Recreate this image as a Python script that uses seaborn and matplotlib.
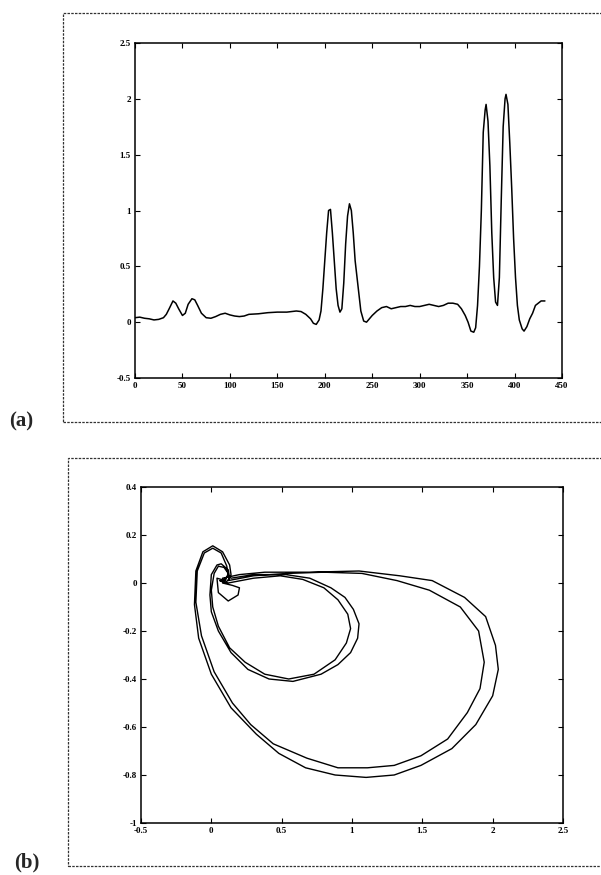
import numpy as np
import pandas as pd
import matplotlib
matplotlib.use("Agg")
import matplotlib.pyplot as plt
from matplotlib.patches import Rectangle
from matplotlib.ticker import FormatStrFormatter
import seaborn as sns

# pannello (a): segnale
segnale_x = [0, 5, 10, 15, 20, 25, 30, 33, 36, 40, 43, 46, 50, 53, 56, 60, 63, 66, 70, 75,
             80, 85, 90, 95, 100, 105, 110, 115, 120, 130, 140, 150, 160, 170, 175, 180, 185,
             188, 191, 194, 196, 198, 200, 202, 204, 206, 208, 210, 212, 214, 216, 218, 220,
             222, 224, 226, 228, 230, 232, 234, 236, 238, 241, 244, 247, 250, 255, 260, 265,
             270, 275, 280, 285, 290, 295, 300, 305, 310, 315, 320, 325, 330, 335, 340, 344,
             348, 351, 354, 357, 359, 361, 363, 365, 367, 369, 370, 372, 374, 376, 378, 380,
             382, 384, 386, 388, 390, 391, 393, 395, 397, 399, 401, 403, 405, 408, 410, 413,
             416, 419, 422, 425, 428, 432]
segnale_y = [0.04, 0.045, 0.035, 0.03, 0.02, 0.025, 0.04, 0.07, 0.12, 0.19, 0.17, 0.12, 0.06,
             0.08, 0.16, 0.21, 0.20, 0.15, 0.08, 0.04, 0.035, 0.05, 0.07, 0.08, 0.065, 0.055,
             0.05, 0.055, 0.07, 0.075, 0.085, 0.09, 0.09, 0.10, 0.095, 0.07, 0.03, -0.01,
             -0.02, 0.02, 0.1, 0.3, 0.55, 0.8, 1.0, 1.01, 0.8, 0.55, 0.3, 0.15, 0.09, 0.12,
             0.35, 0.7, 0.95, 1.06, 1.0, 0.8, 0.55, 0.4, 0.25, 0.1, 0.01, 0.0, 0.03, 0.06,
             0.1, 0.13, 0.14, 0.12, 0.13, 0.14, 0.14, 0.15, 0.14, 0.14, 0.15, 0.16, 0.15,
             0.14, 0.15, 0.17, 0.17, 0.16, 0.12, 0.06, 0.0, -0.08, -0.09, -0.05, 0.15, 0.5,
             1.0, 1.7, 1.9, 1.95, 1.8, 1.4, 0.8, 0.4, 0.18, 0.15, 0.4, 1.1, 1.75, 2.0, 2.04,
             1.95, 1.6, 1.2, 0.75, 0.4, 0.15, 0.02, -0.06, -0.08, -0.04, 0.03, 0.08, 0.15,
             0.17, 0.19, 0.19]

# pannello (b): traiettoria nel piano (due giri piccoli, due giri grandi)
giro_piccolo_1 = [(0.14, 0.02), (0.30, 0.035), (0.53, 0.035), (0.70, 0.02), (0.85, -0.02),
                  (0.95, -0.06), (1.01, -0.11), (1.05, -0.17), (1.04, -0.23), (0.99, -0.29),
                  (0.90, -0.34), (0.78, -0.38), (0.58, -0.41), (0.41, -0.40), (0.26, -0.36),
                  (0.14, -0.29), (0.05, -0.20), (0.0, -0.12), (-0.01, -0.05), (0.0, 0.035),
                  (0.04, 0.075), (0.07, 0.08), (0.12, 0.055), (0.13, 0.02), (0.10, 0.0),
                  (0.06, 0.01)]
giro_piccolo_2 = [(0.12, 0.0), (0.30, 0.02), (0.49, 0.03), (0.65, 0.015), (0.80, -0.02),
                  (0.90, -0.07), (0.97, -0.13), (0.99, -0.19), (0.96, -0.25), (0.88, -0.32),
                  (0.73, -0.38), (0.55, -0.40), (0.38, -0.38), (0.24, -0.33), (0.13, -0.27),
                  (0.05, -0.18), (0.01, -0.10), (0.0, -0.03), (0.02, 0.04), (0.05, 0.07),
                  (0.09, 0.065), (0.12, 0.04), (0.10, 0.01)]
ricciolo = [(0.04, 0.02), (0.05, -0.04), (0.12, -0.075), (0.19, -0.05), (0.20, -0.02),
            (0.15, -0.01), (0.08, 0.0)]
giro_grande_1 = [(0.08, 0.02), (0.2, 0.035), (0.38, 0.045), (0.7, 0.045), (1.05, 0.05),
                 (1.34, 0.03), (1.57, 0.01), (1.80, -0.06), (1.95, -0.14), (2.02, -0.26),
                 (2.04, -0.36), (2.0, -0.47), (1.88, -0.59), (1.71, -0.69), (1.49, -0.76),
                 (1.30, -0.80), (1.10, -0.81), (0.88, -0.80), (0.67, -0.77), (0.48, -0.71),
                 (0.32, -0.63), (0.14, -0.52), (0.0, -0.38), (-0.09, -0.23), (-0.12, -0.09),
                 (-0.11, 0.05), (-0.06, 0.13), (0.01, 0.155), (0.08, 0.13), (0.13, 0.075),
                 (0.14, 0.035), (0.12, 0.01)]
giro_grande_2 = [(0.3, 0.03), (0.55, 0.04), (0.8, 0.045), (1.07, 0.04), (1.32, 0.01),
                 (1.55, -0.03), (1.77, -0.10), (1.90, -0.20), (1.94, -0.33), (1.91, -0.44),
                 (1.82, -0.54), (1.68, -0.65), (1.49, -0.72), (1.30, -0.76), (1.11, -0.77),
                 (0.90, -0.77), (0.68, -0.73), (0.44, -0.67), (0.28, -0.59), (0.15, -0.50),
                 (0.02, -0.37), (-0.07, -0.22), (-0.11, -0.08), (-0.10, 0.05), (-0.05, 0.125),
                 (0.01, 0.145), (0.07, 0.125), (0.11, 0.07), (0.12, 0.03), (0.08, 0.01)]

tick_x_a = [0, 50, 100, 150, 200, 250, 300, 350, 400, 450]
tick_y_a = [-0.5, 0, 0.5, 1, 1.5, 2, 2.5]
tick_x_b = [-0.5, 0, 0.5, 1, 1.5, 2, 2.5]
tick_y_b = [-1, -0.8, -0.6, -0.4, -0.2, 0, 0.2, 0.4]

traiettoria = giro_piccolo_1 + giro_piccolo_2 + ricciolo + giro_grande_1 + giro_grande_2
df_a = pd.DataFrame({"t": segnale_x, "v": segnale_y})
df_b = pd.DataFrame(traiettoria, columns=["x", "y"])

sns.set_style("ticks")
plt.rcParams["font.family"] = ["Liberation Serif", "DejaVu Serif"]
plt.rcParams["axes.unicode_minus"] = False

W, H = 601, 875
fig = plt.figure(figsize=(W / 100, H / 100), dpi=100)


def px_axes(left, top, right, bottom):
    return fig.add_axes([left / W, 1 - bottom / H, (right - left) / W, (bottom - top) / H])


def stile_assi(ax):
    ax.xaxis.set_major_formatter(FormatStrFormatter("%g"))
    ax.yaxis.set_major_formatter(FormatStrFormatter("%g"))
    ax.tick_params(direction="in", top=True, right=True, length=3.5, width=0.8,
                   labelsize=6.5, pad=3, colors="black")
    for lab in ax.get_xticklabels() + ax.get_yticklabels():
        lab.set_fontweight("bold")
    for sp in ax.spines.values():
        sp.set_linewidth(1.1)
        sp.set_color("black")
    ax.set_xlabel("")
    ax.set_ylabel("")


# riquadri tratteggiati
fig.patches.append(Rectangle((63 / W, 1 - 422 / H), 560 / W, 409 / H, transform=fig.transFigure,
                             fill=False, ls=(0, (2, 1)), lw=0.9, ec="#333333"))
fig.patches.append(Rectangle((68 / W, 1 - 866 / H), 560 / W, 408 / H, transform=fig.transFigure,
                             fill=False, ls=(0, (2, 1)), lw=0.9, ec="#333333"))

ax1 = px_axes(135, 43, 562, 378)
sns.lineplot(data=df_a, x="t", y="v", ax=ax1, color="black", lw=1.1, sort=False, estimator=None)
ax1.set_xlim(0, 450)
ax1.set_ylim(-0.5, 2.5)
ax1.set_xticks(tick_x_a)
ax1.set_yticks(tick_y_a)
stile_assi(ax1)

ax2 = px_axes(141, 487, 563, 823)
sns.lineplot(data=df_b, x="x", y="y", ax=ax2, color="black", lw=1.0, sort=False, estimator=None)
ax2.set_xlim(-0.5, 2.5)
ax2.set_ylim(-1, 0.4)
ax2.set_xticks(tick_x_b)
ax2.set_yticks(tick_y_b)
stile_assi(ax2)

fig.text(21 / W, 1 - 421 / H, "(a)", fontsize=15, fontweight="bold", ha="center", va="center")
fig.text(27 / W, 1 - 862 / H, "(b)", fontsize=15, fontweight="bold", ha="center", va="center")

fig.savefig("out.png", dpi=100)
